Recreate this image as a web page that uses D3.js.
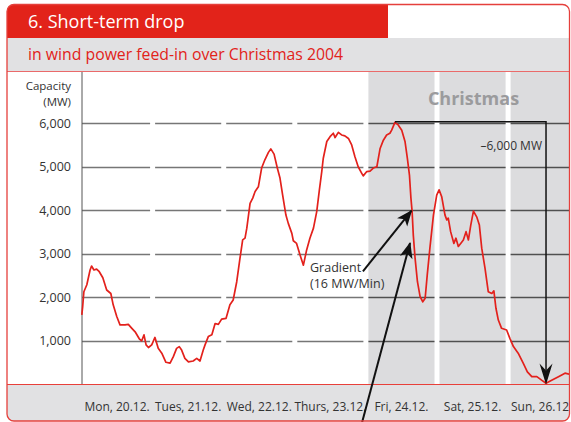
<!DOCTYPE html>
<html>
<head>
<meta charset="utf-8">
<script src="https://cdn.jsdelivr.net/npm/d3@7"></script>
<style>
  html, body { margin: 0; padding: 0; background: #fff; }
  svg { display: block; font-family: "Open Sans", "Noto Sans", sans-serif; }
</style>
</head>
<body>
<svg id="chart" width="571" height="422"></svg>
<script>
// ---- data ----
const title = "6. Short-term drop";
const subtitle = "in wind power feed-in over Christmas 2004";
const dayLabels = ["Mon, 20.12.", "Tues, 21.12.", "Wed, 22.12.", "Thurs, 23.12.", "Fri, 24.12.", "Sat, 25.12.", "Sun, 26.12."];
const christmasDays = [4, 5, 6];
const yTicks = [1000, 2000, 3000, 4000, 5000, 6000];
// hours since Mon 20.12. 00:00
const hours = [0.1,0.4,0.8,1.8,2.9,3.4,4.2,5.1,6.0,7.2,
  8.5,9.9,10.7,11.9,13.0,14.7,15.8,17.0,18.1,19.5,
  20.3,21.1,21.8,22.6,23.7,24.8,25.9,27.1,28.5,29.9,
  31.0,32.1,33.0,33.8,34.9,36.1,37.7,38.9,40.0,41.1,
  41.7,42.8,44.0,45.1,46.2,47.3,48.8,50.1,51.2,52.4,
  53.5,54.4,55.2,55.8,56.9,57.8,58.6,59.7,60.8,61.9,
  63.1,63.9,65.0,66.1,67.0,67.9,69.0,69.8,71.0,71.5,
  72.6,73.8,74.9,76.0,77.1,78.3,79.4,80.3,81.1,81.6,
  82.8,83.9,85.0,85.6,86.7,87.8,88.9,90.1,91.2,92.3,
  93.4,94.6,95.1,96.3,97.4,98.5,99.7,100.8,101.9,103.0,
  104.1,104.7,105.8,106.9,108.1,109.2,110.0,110.7,111.2,111.6,
  112.0,112.6,113.4,114.3,115.2,116.0,116.7,117.6,118.8,119.9,
  120.7,121.6,122.7,123.3,123.8,124.6,125.7,126.4,127.2,128.0,
  128.9,129.8,130.6,131.4,132.3,133.4,134.3,135.1,136.2,137.3,
  138.5,139.2,139.9,140.7,141.8,143.5,144.6,145.8,147.4,149.1,
  150.5,152.0,153.7,155.3,156.8,158.7,161.0,163.2,165.2];
// wind power feed-in, MW
const feedIn = [1600,1790,2130,2290,2630,2720,2630,2650,2590,2450,
  2170,2090,1830,1560,1370,1370,1380,1290,1210,1050,
  1000,1140,910,850,910,1080,830,720,510,490,
  640,830,870,790,600,520,540,600,540,790,
  910,1100,1140,1400,1380,1500,1520,1830,1940,2360,
  2900,3320,3360,3590,4160,4280,4430,4540,4970,5160,
  5330,5410,5290,4970,4740,4350,3890,3700,3470,3300,
  3240,2970,2740,3090,3360,3590,3970,4470,4890,5190,
  5580,5690,5770,5670,5790,5730,5710,5650,5500,5230,
  5000,4850,4790,4890,4900,4970,5000,5420,5610,5730,
  5770,5840,6020,5960,5840,5580,5190,4810,4280,3970,
  3430,2900,2360,2020,1900,1980,2510,3130,3890,4350,
  4470,4310,3890,3780,3820,3510,3240,3360,3170,3240,
  3320,3510,3320,3660,3980,3850,3660,3130,2670,2130,
  2090,2150,1750,1480,1290,1250,1060,870,720,490,
  290,180,180,100,30,100,180,260,230];
const christmasLabel = "Christmas";
const dropLabel = "\u20136,000 MW";
const gradientLabel = ["Gradient", "(16 MW/Min)"];
// gradient arrows: [startHour, startMW, endHour, endMW]
const gradArrows = [[95.0, 2600, 111.4, 3990], [94.0, -1050, 110.9, 3250]];

// ---- layout ----
const W = 571, H = 422;
const frame = {x: 7, y: 4.5, w: 562.5, h: 416.5, r: 7};
const plotTop = 72, plotBottom = 384.5;
const svg = d3.select("#chart");

const x = d3.scaleLinear().domain([0, 168]).range([81.5, 81.5 + 71.1 * 7]);
const y = d3.scaleLinear().domain([0, 6000]).range([plotBottom, 123.2]);

const defs = svg.append("defs");
defs.append("clipPath").attr("id", "frameClip")
  .append("rect").attr("x", frame.x).attr("y", frame.y).attr("width", frame.w).attr("height", frame.h).attr("rx", frame.r);
defs.append("marker").attr("id", "ah").attr("viewBox", "-16 -7 18 14")
  .attr("refX", 0).attr("refY", 0).attr("markerWidth", 18).attr("markerHeight", 14)
  .attr("markerUnits", "userSpaceOnUse").attr("orient", "auto")
  .append("path").attr("d", "M1,0 L-15,-6.5 L-11,0 L-15,6.5 Z").attr("fill", "#111");

const g = svg.append("g").attr("clip-path", "url(#frameClip)");
g.append("rect").attr("x", 0).attr("y", 0).attr("width", W).attr("height", H).attr("fill", "#fff");
// title bar
g.append("rect").attr("x", frame.x).attr("y", 4.5).attr("width", 388 - frame.x).attr("height", 33.5).attr("fill", "#e2231a");
// subtitle band
g.append("rect").attr("x", 0).attr("y", 38).attr("width", W).attr("height", 33.5).attr("fill", "#e1e1e3");
g.append("line").attr("x1", 0).attr("x2", W).attr("y1", 71.5).attr("y2", 71.5).attr("stroke", "#ea6a6a").attr("stroke-width", 1);
// bottom band
g.append("rect").attr("x", 0).attr("y", plotBottom).attr("width", W).attr("height", H - plotBottom).attr("fill", "#e1e1e3");

// christmas shading
const dayStart = i => x(i * 24);
g.selectAll("rect.xmas").data(christmasDays).join("rect").attr("class", "xmas")
  .attr("x", d => dayStart(d) + 2.5).attr("y", plotTop)
  .attr("width", d => dayStart(d + 1) - dayStart(d) - 5).attr("height", plotBottom - plotTop)
  .attr("fill", "#dcdcde");

// gridlines: per-day segments
const gridData = [];
yTicks.forEach(t => d3.range(7).forEach(d => gridData.push({t, d})));
g.selectAll("line.grid").data(gridData).join("line").attr("class", "grid")
  .attr("x1", d => d.d === 0 ? x(0) + 0.5 : dayStart(d.d) + 2.5)
  .attr("x2", d => dayStart(d.d + 1) - 2.5)
  .attr("y1", d => Math.round(y(d.t)) + 0.5).attr("y2", d => Math.round(y(d.t)) + 0.5)
  .attr("stroke", d => christmasDays.includes(d.d) ? "#505050" : "#767676").attr("stroke-width", 1.3);

// y axis line
g.append("line").attr("x1", 82).attr("x2", 82).attr("y1", plotTop).attr("y2", plotBottom)
  .attr("stroke", "#555").attr("stroke-width", 1);

// zero line
g.append("line").attr("x1", 0).attr("x2", W).attr("y1", plotBottom).attr("y2", plotBottom)
  .attr("stroke", "#e8403a").attr("stroke-width", 1);

// y tick labels
const fmt = d3.format(",");
g.selectAll("text.ytick").data(yTicks).join("text").attr("class", "ytick")
  .attr("x", 71).attr("y", d => y(d)).attr("dy", "0.36em").attr("text-anchor", "end")
  .attr("font-size", 12.5).attr("fill", "#333").text(d => fmt(d));
g.append("text").attr("x", 71).attr("y", 90).attr("text-anchor", "end").attr("font-size", 11.5).attr("fill", "#333").text("Capacity");
g.append("text").attr("x", 71).attr("y", 106).attr("text-anchor", "end").attr("font-size", 11.5).attr("fill", "#333").text("(MW)");

// x labels
g.selectAll("text.xlab").data(dayLabels).join("text").attr("class", "xlab")
  .attr("x", (d, i) => x(i * 24 + 12) - (i === 6 ? 2 : 0)).attr("y", 411).attr("text-anchor", "middle")
  .attr("font-size", 12).attr("fill", "#333").text(d => d);

// Christmas label
g.append("text").attr("x", 473.5).attr("y", 105).attr("text-anchor", "middle")
  .attr("font-size", 18).attr("font-weight", "bold").attr("fill", "#9b9b9d").text(christmasLabel);

// data line
const pts = hours.map((h, i) => [h, feedIn[i]]);
g.append("path").datum(pts)
  .attr("d", d3.line().x(d => x(d[0])).y(d => y(d[1])))
  .attr("fill", "none").attr("stroke", "#e3211c").attr("stroke-width", 1.7).attr("stroke-linejoin", "round");

// drop arrow: peak -> minimum
const after = pts.filter(p => p[0] > 100);
const peak = after[d3.maxIndex(after, p => p[1])];
const low = after[d3.minIndex(after, p => p[1])];
const py = y(peak[1]) - 0.5;
g.append("path")
  .attr("d", `M${x(peak[0])},${py} H${x(low[0])} V${plotBottom - 14}`)
  .attr("fill", "none").attr("stroke", "#111").attr("stroke-width", 1.5);
const lx = x(low[0]);
g.append("path")
  .attr("d", `M${lx},${plotBottom} L${lx - 6.5},${plotBottom - 21} L${lx},${plotBottom - 14} L${lx + 6.5},${plotBottom - 21} Z`)
  .attr("fill", "#111");
g.append("text").attr("x", 542).attr("y", 150).attr("text-anchor", "end")
  .attr("font-size", 12).attr("fill", "#333").text(dropLabel);

// gradient labels
g.selectAll("text.grad").data(gradientLabel).join("text").attr("class", "grad")
  .attr("x", 310).attr("y", (d, i) => 272 + i * 16).attr("font-size", 12.5).attr("fill", "#333").text(d => d);

// gradient arrows (not clipped)
svg.selectAll("line.garrow").data(gradArrows).join("line").attr("class", "garrow")
  .attr("x1", d => x(d[0])).attr("y1", d => y(d[1]))
  .attr("x2", d => x(d[2])).attr("y2", d => y(d[3]))
  .attr("stroke", "#111").attr("stroke-width", 2).attr("marker-end", "url(#ah)");

// title texts
svg.append("text").attr("x", 28).attr("y", 28).attr("font-size", 18).attr("fill", "#fff").text(title);
svg.append("text").attr("x", 28).attr("y", 60).attr("font-size", 15.8).attr("fill", "#e2231a").text(subtitle);

// frame border
svg.append("rect").attr("x", frame.x).attr("y", frame.y).attr("width", frame.w).attr("height", frame.h).attr("rx", frame.r)
  .attr("fill", "none").attr("stroke", "#e5403c").attr("stroke-width", 1.3);
</script>
</body>
</html>
